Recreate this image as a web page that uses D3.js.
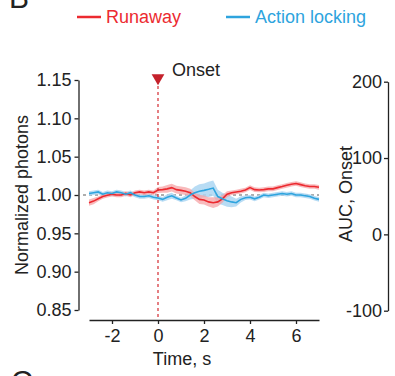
<!DOCTYPE html>
<html>
<head>
<meta charset="utf-8">
<script src="https://cdn.jsdelivr.net/npm/d3@7"></script>
<style>
  body { margin: 0; background: #fff; }
  svg text { font-family: "Liberation Sans", Arial, sans-serif; fill: #222; }
  .axis path, .axis line { stroke: #222; stroke-width: 1.3; }
  .axis text { font-size: 18px; }
</style>
</head>
<body>
<div id="chart"></div>
<script>
// time in seconds
var times = [-3, -2.8, -2.6, -2.4, -2.2, -2, -1.8, -1.6, -1.4, -1.2, -1, -0.8, -0.6, -0.4, -0.2,
  0, 0.2, 0.4, 0.6, 0.8, 1, 1.2, 1.4, 1.6, 1.8, 2, 2.2, 2.4, 2.6, 2.8, 3, 3.2, 3.4, 3.6, 3.8,
  4, 4.2, 4.4, 4.6, 4.8, 5, 5.2, 5.4, 5.6, 5.8, 6, 6.2, 6.4, 6.6, 6.8, 7];
var runaway = [0.990, 0.992, 0.995, 0.998, 0.9996, 1.001, 1.000, 1.000, 1.002, 1.000, 1.003, 1.004, 1.003, 1.004, 1.003,
  1.0065, 1.007, 1.008, 1.0096, 1.007, 1.006, 1.005, 1.003, 0.998, 0.9943, 0.9935, 0.991, 0.990, 0.991, 0.995,
  1.001, 1.003, 1.004, 1.005, 1.0065, 1.0096, 1.007, 1.0065, 1.007, 1.008, 1.008, 1.0096, 1.011, 1.0126, 1.014,
  1.015, 1.0135, 1.012, 1.011, 1.011, 1.010];
var runawaySem = [0.004, 0.004, 0.003, 0.003, 0.003, 0.003, 0.003, 0.003, 0.003, 0.003, 0.003, 0.003, 0.003, 0.003, 0.003,
  0.004, 0.004, 0.005, 0.005, 0.005, 0.005, 0.005, 0.005, 0.005, 0.006, 0.006, 0.006, 0.007, 0.006, 0.005,
  0.004, 0.003, 0.003, 0.003, 0.003, 0.003, 0.003, 0.003, 0.003, 0.003, 0.003, 0.003, 0.003, 0.003, 0.003,
  0.003, 0.003, 0.003, 0.003, 0.003, 0.003];
var locking = [1.002, 1.003, 1.004, 1.001, 1.003, 1.002, 1.004, 1.003, 1.001, 1.003, 1.000, 0.998, 0.998, 0.999, 0.997,
  0.996, 0.9943, 0.997, 0.999, 0.996, 0.9935, 0.9957, 1.000, 1.003, 1.005, 1.006, 1.0074, 1.009, 0.998, 0.995,
  0.9926, 0.991, 0.990, 0.9943, 0.9965, 0.997, 0.995, 0.997, 1.000, 0.999, 1.000, 1.001, 1.002, 1.001, 1.002,
  1.000, 1.000, 0.999, 0.998, 0.9957, 0.9943];
var lockingSem = [0.003, 0.003, 0.003, 0.003, 0.003, 0.003, 0.003, 0.003, 0.003, 0.003, 0.003, 0.003, 0.003, 0.003, 0.003,
  0.003, 0.003, 0.004, 0.004, 0.003, 0.003, 0.004, 0.006, 0.008, 0.009, 0.009, 0.010, 0.010, 0.009, 0.008,
  0.008, 0.007, 0.005, 0.004, 0.003, 0.003, 0.003, 0.003, 0.003, 0.003, 0.003, 0.003, 0.003, 0.003, 0.003,
  0.003, 0.003, 0.003, 0.003, 0.003, 0.003];
var yTicks = [0.85, 0.90, 0.95, 1.00, 1.05, 1.10, 1.15];
var xTicks = [-2, 0, 2, 4, 6];
var aucTicks = [-100, 0, 100, 200];
var seriesNames = ["Runaway", "Action locking"];

var w = 395, h = 376;
var red = "#ec2a30", redBand = "#f5a3a6";
var blue = "#2ea4de", blueBand = "#abd6f2";

var svg = d3.select("#chart").append("svg").attr("width", w).attr("height", h);

var xScale = d3.scaleLinear().domain([-3, 7]).range([89, 319]);
var yScale = d3.scaleLinear().domain([0.85, 1.15]).range([310, 80]);
var aucScale = d3.scaleLinear().domain([-100, 200]).range([310.7, 81.7]);

// panel letters (cut off at the edges, as in the figure)
svg.append("text").attr("x", 9).attr("y", 8).style("font-size", "30px").text("B");
svg.append("text").attr("x", 11).attr("y", 391).style("font-size", "30px").text("C");

// legend
var legend = [{name: seriesNames[0], color: red, x: 77}, {name: seriesNames[1], color: blue, x: 226}];
legend.forEach(function (d) {
    svg.append("line").attr("x1", d.x).attr("x2", d.x + 24).attr("y1", 17).attr("y2", 17)
        .attr("stroke", d.color).attr("stroke-width", 2.5);
    svg.append("text").attr("x", d.x + 29).attr("y", 23).style("font-size", "18px")
        .style("fill", d.color).text(d.name);
});

// baseline at 1.00
svg.append("line").attr("x1", xScale(-3) - 6).attr("x2", xScale(7))
    .attr("y1", yScale(1)).attr("y2", yScale(1))
    .attr("stroke", "#333").attr("stroke-width", 0.8).attr("stroke-dasharray", "3,3");

// bands and lines
var data = times.map(function (t, i) {
    return {t: t, r: runaway[i], rs: runawaySem[i], b: locking[i], bs: lockingSem[i]};
});
var area = function (key, sem) {
    return d3.area().x(d => xScale(d.t)).y0(d => yScale(d[key] - d[sem])).y1(d => yScale(d[key] + d[sem]));
};
var line = function (key) {
    return d3.line().x(d => xScale(d.t)).y(d => yScale(d[key]));
};
svg.append("path").attr("d", area("b", "bs")(data)).attr("fill", blueBand).attr("opacity", 0.85);
svg.append("path").attr("d", area("r", "rs")(data)).attr("fill", redBand).attr("opacity", 0.75);
svg.append("path").attr("d", line("r")(data)).attr("fill", "none").attr("stroke", red).attr("stroke-width", 1.6);
svg.append("path").attr("d", line("b")(data)).attr("fill", "none").attr("stroke", blue).attr("stroke-width", 1.6);

// onset marker
svg.append("line").attr("x1", xScale(0)).attr("x2", xScale(0)).attr("y1", 80).attr("y2", 320)
    .attr("stroke", "#d42a30").attr("stroke-width", 1.2).attr("stroke-dasharray", "3,3");
svg.append("path").attr("d", d3.symbol().type(d3.symbolTriangle).size(70)())
    .attr("transform", "translate(" + xScale(0) + ",78) rotate(180)").attr("fill", "#c4212b");
svg.append("text").attr("x", 172).attr("y", 76).style("font-size", "18px").text("Onset");

// axes (hyphen minus as in the figure)
var fmtInt = d => String(d);
svg.append("g").attr("class", "axis").attr("transform", "translate(0,320)")
    .call(d3.axisBottom(xScale).tickValues(xTicks).tickFormat(fmtInt).tickSize(4).tickSizeOuter(0).tickPadding(4))
    .selectAll("text").attr("dy", "0.75em");
svg.append("g").attr("class", "axis").attr("transform", "translate(78.5,0)")
    .call(d3.axisLeft(yScale).tickValues(yTicks).tickFormat(d3.format(".2f")).tickSize(4).tickSizeOuter(0).tickPadding(3));
svg.append("g").attr("class", "axis").attr("transform", "translate(388,0)")
    .call(d3.axisLeft(aucScale).tickValues(aucTicks).tickFormat(fmtInt).tickSize(4).tickSizeOuter(0).tickPadding(2));
svg.selectAll(".axis text").style("fill", "#222");
svg.selectAll(".axis .domain").attr("stroke", "#222");

// axis titles
svg.append("text").attr("x", 182).attr("y", 365).attr("text-anchor", "middle")
    .style("font-size", "18px").text("Time, s");
svg.append("text").attr("transform", "translate(28,195) rotate(-90)").attr("text-anchor", "middle")
    .style("font-size", "18px").text("Normalized photons");
svg.append("text").attr("transform", "translate(352,194) rotate(-90)").attr("text-anchor", "middle")
    .style("font-size", "18px").text("AUC, Onset");
</script>
</body>
</html>
